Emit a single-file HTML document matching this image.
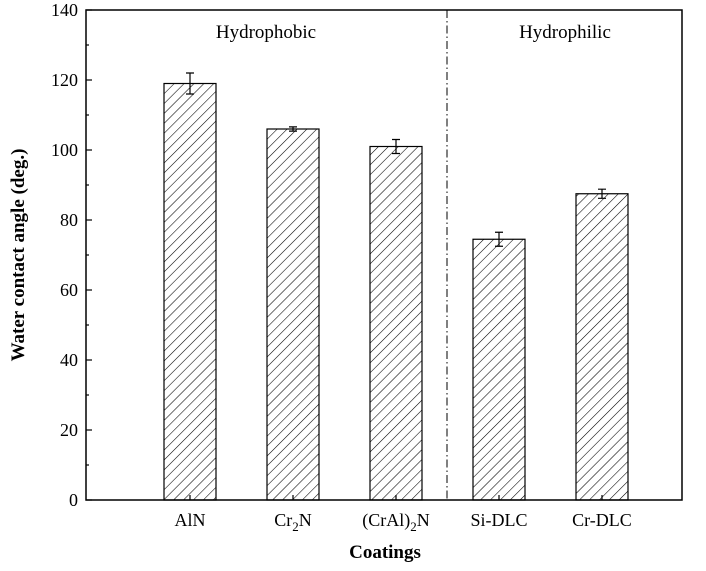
<!DOCTYPE html>
<html><head><meta charset="utf-8"><style>
body{margin:0;background:#fff;}
text{font-family:"Liberation Serif",serif;fill:#000;}
</style></head><body>
<svg id="chart" width="706" height="566" xmlns="http://www.w3.org/2000/svg">
<defs>
<pattern id="hatch" patternUnits="userSpaceOnUse" width="7" height="7" patternTransform="rotate(45)">
<rect width="7" height="7" fill="#fff"/>
<line x1="0" y1="0" x2="0" y2="7" stroke="#000" stroke-width="1.1"/>
</pattern>
</defs>
<g id="plot"></g>
</svg>
<script>
const categories = ["AlN","Cr2N","(CrAl)2N","Si-DLC","Cr-DLC"];
const values = [119, 106, 101, 74.5, 87.5];
const errors = [3, 0.6, 2, 2, 1.3];
const yTicks = [0,20,40,60,80,100,120,140];

const L=86,R=682,T=10,B=500,yMax=140;
const y=v=>B-(v/yMax)*(B-T);
const x0=190,step=103;
const x=i=>x0+i*step;
const bw=52;
const ns="http://www.w3.org/2000/svg";
const g=document.getElementById('plot');
function mk(tag,attrs){const e=document.createElementNS(ns,tag);for(const k in attrs)e.setAttribute(k,attrs[k]);g.appendChild(e);return e;}

// bars
categories.forEach((c,i)=>{
  const r=mk('rect',{x:x(i)-bw/2,y:y(values[i]),width:bw,height:B-y(values[i]),fill:'url(#hatch)',stroke:'#000','stroke-width':1.2});
  
  
  const eg=mk('path',{d:`M${x(i)} ${y(values[i]+errors[i])}V${y(values[i]-errors[i])}M${x(i)-4} ${y(values[i]+errors[i])}H${x(i)+4}M${x(i)-4} ${y(values[i]-errors[i])}H${x(i)+4}`,stroke:'#000','stroke-width':1.2,fill:'none'});
  
  
  const t=mk('text',{x:x(i),y:B+26,'font-size':18,'text-anchor':'middle'});
  
  
  const m=c.match(/^(.*?)2(.*)$/);
  if(m&&c.indexOf('DLC')<0){
    t.appendChild(document.createTextNode(m[1]));
    const s=document.createElementNS(ns,'tspan');s.setAttribute('font-size',13);s.setAttribute('dy',5);s.textContent='2';t.appendChild(s);
    const s2=document.createElementNS(ns,'tspan');s2.setAttribute('dy',-5);s2.textContent=m[2];t.appendChild(s2);
  } else t.textContent=c;
  mk('line',{x1:x(i),x2:x(i),y1:B,y2:B-5,stroke:'#000','stroke-width':1.2});
});
// y ticks
yTicks.forEach(v=>{
  mk('line',{x1:L,x2:L+6,y1:y(v),y2:y(v),stroke:'#000','stroke-width':1.2});
  if(v<yMax) mk('line',{x1:L,x2:L+3,y1:y(v+10),y2:y(v+10),stroke:'#000','stroke-width':1.2});
  const t=mk('text',{x:L-8,y:y(v)+6,'font-size':18,'text-anchor':'end'});
  t.textContent=v;
  
  
});
const fr=mk('rect',{x:L,y:T,width:R-L,height:B-T,fill:'none',stroke:'#000','stroke-width':1.5});


const dl=mk('line',{x1:447,x2:447,y1:T,y2:B,stroke:'#000','stroke-width':1,'stroke-dasharray':'8,3,1.5,3'});


const h1=mk('text',{x:266,y:38,'font-size':19,'text-anchor':'middle'});h1.textContent='Hydrophobic';


const h2=mk('text',{x:565,y:38,'font-size':19,'text-anchor':'middle'});h2.textContent='Hydrophilic';


const xt=mk('text',{x:385,y:558,'font-size':19,'font-weight':'bold','text-anchor':'middle'});xt.textContent='Coatings';


const yt=mk('text',{x:0,y:0,'font-size':19,'font-weight':'bold','text-anchor':'middle',transform:'translate(24,255) rotate(-90)'});yt.textContent='Water contact angle (deg.)';


</script>
</body></html>
